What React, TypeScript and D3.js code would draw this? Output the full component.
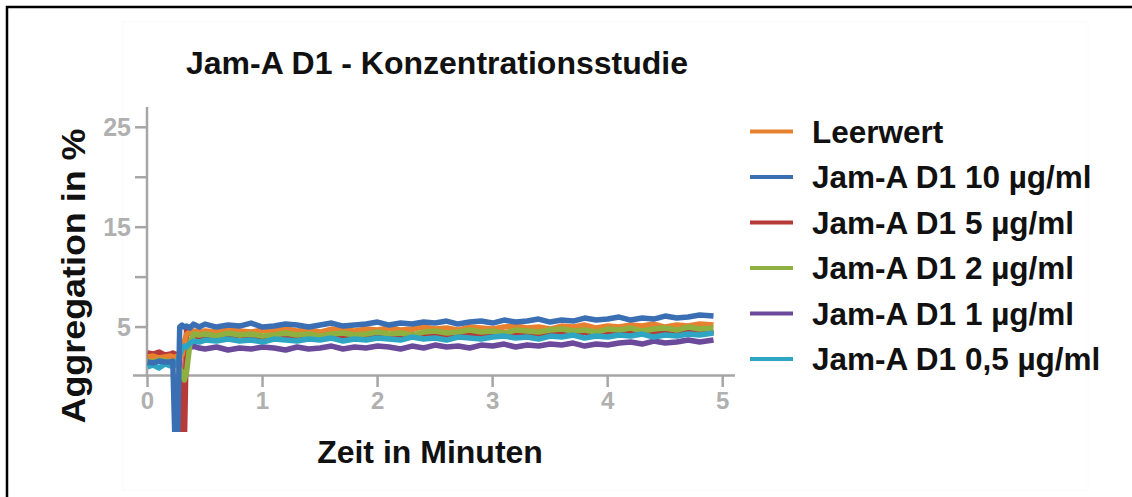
import React from "react";
import * as d3 from "d3";

const times = [
  0, 0.05, 0.1, 0.15, 0.2, 0.22, 0.24, 0.26, 0.28, 0.3, 0.32, 0.34, 0.37, 0.4, 0.45,
  0.5, 0.6, 0.7, 0.8, 0.9, 1.0, 1.1, 1.2, 1.3, 1.4, 1.5, 1.6, 1.7, 1.8, 1.9, 2.0,
  2.1, 2.2, 2.3, 2.4, 2.5, 2.6, 2.7, 2.8, 2.9, 3.0, 3.1, 3.2, 3.3, 3.4, 3.5, 3.6,
  3.7, 3.8, 3.9, 4.0, 4.1, 4.2, 4.3, 4.4, 4.5, 4.6, 4.7, 4.8, 4.92,
];

const leerwert = [
  2.0, 2.1, 1.9, 2.0, 2.1, 2.0, 2.0, 2.1, 2.0, 2.2, 3.5, 4.3, 4.5, 4.6, 4.5,
  4.6, 4.5, 4.7, 4.6, 4.5, 4.7, 4.6, 4.8, 4.6, 4.7, 4.5, 4.8, 4.7, 4.6, 4.8, 4.7,
  4.9, 4.7, 4.8, 5.0, 4.8, 4.9, 4.7, 5.0, 4.9, 4.8, 5.0, 5.1, 4.9, 5.0, 4.8, 5.1,
  5.0, 5.2, 4.9, 5.1, 5.0, 5.2, 5.1, 5.3, 5.0, 5.2, 5.1, 5.3, 5.2,
];
const jam10 = [
  1.5, 1.4, 1.6, 1.5, 1.5, 1.6, -7, -7, 5.0, 5.2, 5.0, 5.1, 4.9, 5.3, 5.0,
  5.3, 5.0, 5.2, 5.1, 5.4, 5.0, 5.1, 5.3, 5.2, 5.0, 5.2, 5.4, 5.1, 5.2, 5.3, 5.5,
  5.2, 5.4, 5.3, 5.5, 5.4, 5.6, 5.3, 5.5, 5.6, 5.4, 5.7, 5.5, 5.6, 5.8, 5.5, 5.7,
  5.6, 5.9, 5.7, 5.8, 6.0, 5.7, 5.9, 5.8, 6.1, 5.9, 6.0, 6.2, 6.1,
];
const jam5 = [
  2.4, 2.3, 2.5, 2.2, 2.3, 2.4, 2.3, 2.2, 2.3, -7, -7, 5.0, 4.4, 4.2, 4.0,
  4.1, 3.9, 4.0, 4.2, 3.9, 4.0, 4.1, 3.8, 4.0, 4.1, 3.9, 4.2, 4.0, 4.1, 3.9, 4.2,
  4.1, 4.0, 4.3, 4.1, 4.2, 4.0, 4.3, 4.2, 4.1, 4.3, 4.4, 4.2, 4.3, 4.1, 4.4, 4.3,
  4.2, 4.5, 4.3, 4.4, 4.2, 4.5, 4.4, 4.3, 4.6, 4.4, 4.5, 4.3, 4.6,
];
const jam2 = [
  1.6, 1.5, 1.7, 1.6, 1.5, 1.6, 1.4, 1.2, 0.8, 0.5, -0.3, 0.5, 3.5, 4.3, 4.2,
  4.3, 4.1, 4.4, 4.2, 4.3, 4.1, 4.2, 4.4, 4.2, 4.3, 4.1, 4.3, 4.4, 4.2, 4.3, 4.5,
  4.3, 4.4, 4.2, 4.5, 4.6, 4.4, 4.5, 4.7, 4.5, 4.6, 4.4, 4.7, 4.6, 4.5, 4.7, 4.8,
  4.6, 4.7, 4.5, 4.8, 4.7, 4.9, 4.6, 4.8, 4.9, 4.7, 5.0, 4.8, 4.9,
];
const jam1 = [
  1.9, 2.0, 1.8, 2.1, 1.9, 2.0, 1.9, 2.0, 2.1, 2.2, 2.5, 2.9, 3.0, 3.1, 2.9,
  2.8, 3.0, 2.7, 2.9, 2.8, 3.0, 2.9, 2.7, 3.0, 2.8, 2.9, 3.1, 2.8, 3.0, 2.9, 3.1,
  3.0, 2.8, 3.1, 2.9, 3.2, 3.0, 3.1, 2.9, 3.2, 3.1, 3.3, 3.0, 3.2, 3.1, 3.3, 3.2,
  3.4, 3.1, 3.3, 3.2, 3.4, 3.5, 3.3, 3.6, 3.4, 3.5, 3.7, 3.5, 3.7,
];
const jam05 = [
  1.0, 1.2, 0.9, 1.3, 1.1, 1.4, 1.2, 1.5, 2.2, 2.8, 3.1, 3.0, 3.4, 3.6, 3.5,
  3.7, 3.6, 3.8, 3.6, 3.7, 3.5, 3.8, 3.7, 3.6, 3.8, 3.7, 3.9, 3.6, 3.8, 3.7, 3.9,
  3.8, 3.7, 4.0, 3.8, 3.9, 3.7, 4.0, 3.9, 3.8, 4.0, 4.1, 3.9, 4.0, 3.8, 4.1, 4.0,
  4.2, 3.9, 4.1, 4.0, 4.2, 4.1, 4.3, 4.0, 4.2, 4.1, 4.3, 4.2, 4.4,
];

const seriesNames = [
  "Leerwert",
  "Jam-A D1 10 µg/ml",
  "Jam-A D1 5 µg/ml",
  "Jam-A D1 2 µg/ml",
  "Jam-A D1 1 µg/ml",
  "Jam-A D1 0,5 µg/ml",
];
const seriesValues = [leerwert, jam10, jam5, jam2, jam1, jam05];
const seriesColors = ["#e8812f", "#3b6fb3", "#b73a3a", "#8db040", "#6b4a9b", "#2ea5c2"];
const drawOrder = [4, 2, 0, 3, 5, 1];

const xTicks = [0, 1, 2, 3, 4, 5];
const yTicks = [10, 20, 25, 15, 5];
const yTickLabels = [25, 15, 5];

const title = "Jam-A D1 - Konzentrationsstudie";
const xLabel = "Zeit in Minuten";
const yLabel = "Aggregation in %";

export default function App() {
  const x = d3.scaleLinear().domain([0, 5]).range([147.5, 722.7]);
  const y = d3.scaleLinear().domain([0, 25]).range([377, 127.3]);
  const axisColor = "#a6a6a6";
  const font = "'Liberation Sans', Arial, sans-serif";

  const line = d3
    .line<number>()
    .x((_, i) => x(times[i]))
    .y((d) => y(d));

  const legendX = 750;
  const legendY0 = 131.5;
  const legendStep = 45.5;

  return (
    <svg
      width={1132}
      height={497}
      style={{ position: "absolute", left: 0, top: 0, background: "#fff" }}
      fontFamily={font}
    >
      <defs>
        <clipPath id="plotclip">
          <rect x={130} y={100} width={620} height={332} />
        </clipPath>
      </defs>
      <rect x={0} y={0} width={1132} height={497} fill="#fff" />
      <rect x={123} y={22} width={965} height={468} fill="none" stroke="#fafafa" strokeWidth={1} />
      <path d="M7,497 L7,7 L1132,7" fill="none" stroke="#000" strokeWidth={2.5} />

      <text x={437} y={74} textAnchor="middle" fontSize={32} fontWeight="bold" fill="#111">
        {title}
      </text>

      {/* Y axis */}
      <line x1={x(0) - 0.5} x2={x(0) - 0.5} y1={107} y2={y(0)} stroke={axisColor} strokeWidth={2.5} />
      {yTicks.map((t) => (
        <line key={"yt" + t} x1={135} x2={x(0) - 0.5} y1={y(t)} y2={y(t)} stroke={axisColor} strokeWidth={2.5} />
      ))}
      {yTickLabels.map((t) => (
        <text
          key={"yl" + t}
          x={131}
          y={y(t) + 9}
          textAnchor="end"
          fontSize={25}
          fontWeight="bold"
          fill="#b0b0b0"
        >
          {t}
        </text>
      ))}

      {/* X axis */}
      <line x1={133} x2={735} y1={y(0) - 1.5} y2={y(0) - 1.5} stroke={axisColor} strokeWidth={2.5} />
      {xTicks.map((t) => (
        <g key={"xt" + t}>
          <line x1={x(t)} x2={x(t)} y1={y(0) - 1.5} y2={387} stroke={axisColor} strokeWidth={2.5} />
          <text x={x(t)} y={409} textAnchor="middle" fontSize={24} fontWeight="bold" fill="#b0b0b0">
            {t}
          </text>
        </g>
      ))}

      {/* Lines */}
      <g clipPath="url(#plotclip)">
        {drawOrder.map((si) => (
          <path
            key={"s" + si}
            d={line(seriesValues[si]) || ""}
            fill="none"
            stroke={seriesColors[si]}
            strokeWidth={5.5}
            strokeLinejoin="round"
            strokeLinecap="butt"
          />
        ))}
      </g>

      <text x={430} y={463} textAnchor="middle" fontSize={32} fontWeight="bold" fill="#111">
        {xLabel}
      </text>
      <text
        transform="translate(85,276) rotate(-90)"
        textAnchor="middle"
        fontSize={33}
        fontWeight="bold"
        fill="#111"
        textLength={295}
        lengthAdjust="spacingAndGlyphs"
      >
        {yLabel}
      </text>

      {/* Legend */}
      {seriesNames.map((name, i) => (
        <g key={"lg" + i}>
          <line
            x1={legendX}
            x2={legendX + 43}
            y1={legendY0 + i * legendStep}
            y2={legendY0 + i * legendStep}
            stroke={seriesColors[i]}
            strokeWidth={4}
          />
          <text
            x={812}
            y={legendY0 + i * legendStep + 11}
            fontSize={31.5}
            fontWeight="bold"
            fill="#111"
          >
            {name}
          </text>
        </g>
      ))}
    </svg>
  );
}
